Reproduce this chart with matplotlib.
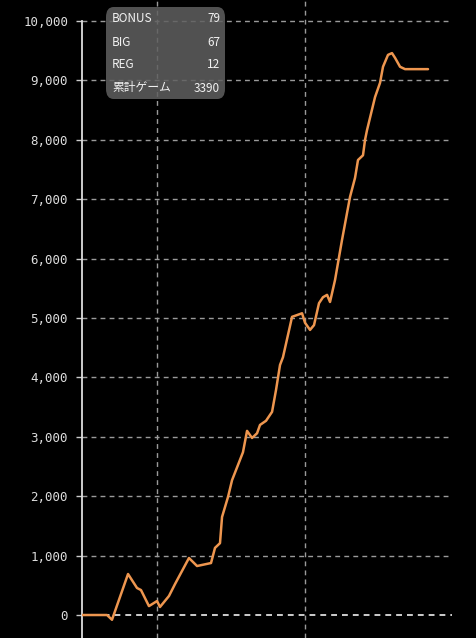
import matplotlib
matplotlib.use("Agg")
import matplotlib.pyplot as plt
from matplotlib.patches import FancyBboxPatch
from matplotlib.ticker import FuncFormatter

# slump data: cumulative games vs. difference in medals
games = [0, 245, 294, 451, 539, 578, 656, 735, 764, 852, 911, 1048, 1127, 1264,
         1303, 1352, 1372, 1431, 1470, 1577, 1617, 1666, 1715, 1744, 1803, 1862,
         1901, 1940, 1969, 2058, 2156, 2185, 2234, 2273, 2322, 2361, 2401, 2430,
         2479, 2547, 2626, 2675, 2704, 2753, 2773, 2792, 2871, 2920, 2949, 2998,
         3037, 3067, 3116, 3165, 3390]
medals = [0, 0, -80, 690, 455, 420, 150, 235, 135, 320, 520, 960, 825, 875,
          1130, 1210, 1650, 1990, 2270, 2740, 3100, 2980, 3060, 3200, 3270, 3420,
          3790, 4210, 4340, 5020, 5080, 4920, 4800, 4880, 5250, 5350, 5390, 5270,
          5640, 6310, 7040, 7360, 7660, 7740, 8000, 8160, 8720, 8960, 9230, 9430,
          9460, 9380, 9230, 9190, 9190]

stat_labels = ["BONUS", "BIG", "REG", "累計ゲーム"]
stat_values = ["79", "67", "12", "3390"]

W, H = 476, 638
fig = plt.figure(figsize=(W / 100, H / 100), dpi=100, facecolor="black")
ax = fig.add_axes([82 / W, 0, 370 / W, 1], facecolor="black")

ax.plot(games, medals, color="#ee964f", lw=1.8, solid_joinstyle="round",
        solid_capstyle="round", zorder=3)

ax.set_xlim(0, 3625)
ax.set_ylim(-387, 10354)
ax.set_yticks(range(0, 10001, 1000))
ax.yaxis.set_major_formatter(FuncFormatter(lambda v, p: "{:,}".format(int(v))))
ax.set_xticks([735, 2185])

for s in ["top", "right", "bottom"]:
    ax.spines[s].set_visible(False)
ax.spines["left"].set_color("#dddddd")
ax.spines["left"].set_linewidth(1.3)
ax.spines["left"].set_bounds(-387, 10000)

ax.tick_params(axis="y", colors="#cccccc", length=4.5, width=1, pad=5.5,
               labelcolor="#dddddd", labelsize=9)
for lab in ax.get_yticklabels():
    lab.set_family("DejaVu Sans Mono")
ax.tick_params(axis="x", length=0, labelbottom=False)

ax.grid(True, color="#9a9a9a", lw=1, linestyle=(0, (3.5, 3)))
# zero line is brighter
zero_line = ax.get_ygridlines()[0]
zero_line.set_color("#f0f0f0")
zero_line.set_linewidth(1.2)

# stats box
box = FancyBboxPatch((106 / W, 1 - 99 / H), 119 / W, 92 / H,
                     boxstyle="round,pad=0,rounding_size=0.016",
                     transform=fig.transFigure, facecolor="#606060",
                     edgecolor="none", alpha=0.85, zorder=5)
fig.patches.append(box)

rows_y = [19, 42, 65, 88]
for lab, val, y in zip(stat_labels, stat_values, rows_y):
    fig.text(112 / W, 1 - y / H, lab, color="#f2f2f2", fontsize=8.5, va="center",
             ha="left", family=["Noto Sans CJK JP", "DejaVu Sans"], zorder=6)
    fig.text(220 / W, 1 - y / H, val, color="#f2f2f2", fontsize=8.5, va="center",
             ha="right", family=["Noto Sans CJK JP", "DejaVu Sans"], zorder=6)

fig.savefig("out.png", dpi=100, facecolor="black")
